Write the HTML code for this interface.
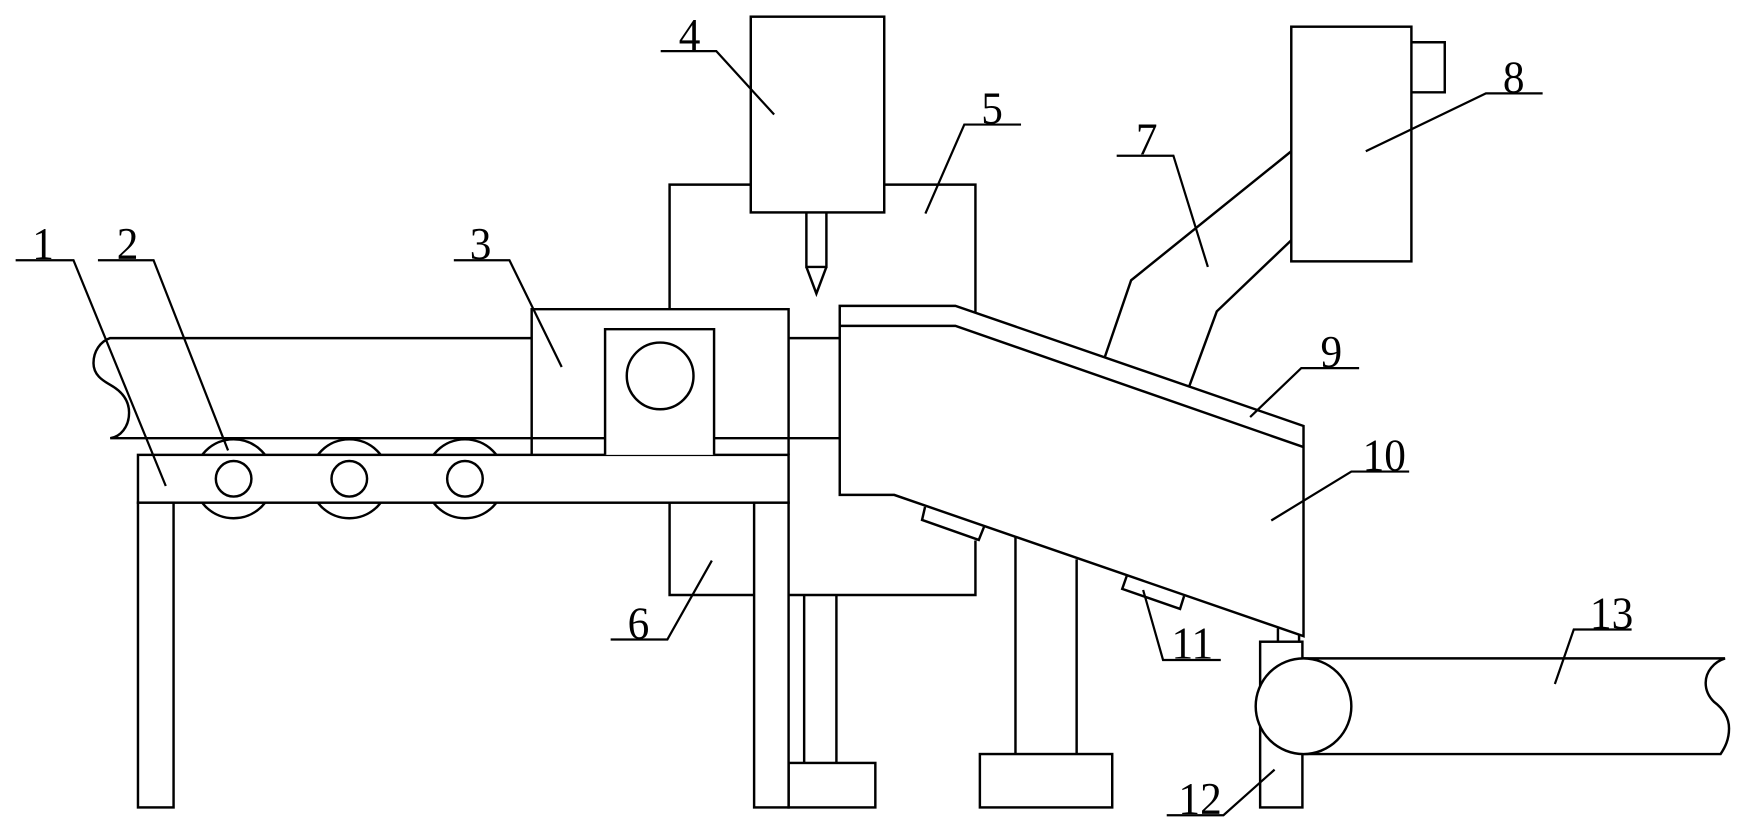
<!DOCTYPE html>
<html>
<head>
<meta charset="utf-8">
<style>
html,body{margin:0;padding:0;background:#fff;}
svg{display:block;position:absolute;left:0;top:0;}
.s{fill:none;stroke:#000;stroke-width:2.2;stroke-linejoin:miter;}
.f{fill:#fff;stroke:#000;stroke-width:2.2;}
.l{fill:none;stroke:#000;stroke-width:2;}
text{font-family:"Liberation Serif",serif;font-size:41px;fill:#000;text-anchor:middle;}
</style>
</head>
<body>
<svg width="1744" height="827" viewBox="0 0 1568 743.6" xmlns="http://www.w3.org/2000/svg">
<rect x="0" y="0" width="1568" height="744" fill="#fff"/>
<!-- frame 5/6 -->
<path class="s" d="M602 278V166H675M795 166H877V281"/>
<path class="s" d="M602 452V535H678M709 535H877V486"/>
<!-- left support -->
<path class="s" d="M723 535V686M752 535V686"/>
<rect class="f" x="709" y="686" width="78" height="40"/>
<!-- middle support -->
<path class="s" d="M913 483V678M968 503V678"/>
<rect class="f" x="881" y="678" width="119" height="48"/>
<!-- rollers -->
<circle class="s" cx="210" cy="430.5" r="35.5"/>
<circle class="s" cx="314" cy="430.5" r="35.5"/>
<circle class="s" cx="418" cy="430.5" r="35.5"/>
<!-- belt -->
<path class="s" d="M478 304H99C90 307 84 316 84 326.5C84 337 92 342 99 346C108 351 116 359 116 371C116 384 108 393 99 394H544"/>
<path class="s" d="M709 304H755M642 394H755"/>
<!-- table -->
<rect class="f" x="124" y="409" width="585" height="43"/>
<rect class="f" x="124" y="452" width="32" height="274"/>
<rect class="f" x="678" y="452" width="31" height="274"/>
<circle class="f" cx="210" cy="430.5" r="16"/>
<circle class="f" cx="314" cy="430.5" r="16"/>
<circle class="f" cx="418" cy="430.5" r="16"/>
<!-- box 3 -->
<path class="s" d="M478 409V278H709V409"/>
<path class="f" d="M544 409V296H642V409"/>
<circle class="s" cx="593.5" cy="338" r="30"/>
<!-- column 4 -->
<rect class="f" x="675" y="15" width="120" height="176"/>
<path class="s" d="M725 191V240H743V191M725 240L734 264L743 240"/>
<!-- 8 -->
<rect class="f" x="1161" y="24" width="108" height="211"/>
<path class="s" d="M1269 38H1299V83H1269"/>
<!-- duct 7 -->
<path class="s" d="M1161 136L1017 252L993 322M1161 216L1094 280L1069 348"/>
<!-- vibrators -->
<path class="f" d="M831.7 455.8L829 467.5L880 485.5L884.7 473.8"/>
<path class="f" d="M1013 518L1009 529.5L1061 547.5L1064.6 536"/>
<!-- 12 -->
<path class="s" d="M1149 577V565M1168 577V565"/>
<rect class="f" x="1133" y="577" width="38" height="149"/>
<!-- hopper -->
<path class="f" d="M755 275H859L1172 383V572L804 445H755Z"/>
<path class="s" d="M755 293H859L1172 402"/>
<!-- belt 13 -->
<path class="s" d="M1172 592H1551C1541 595 1533.6 604 1533.6 614C1533.6 622 1537 627 1541 631C1549 637 1554.6 645 1554.6 655C1554.6 665 1551 672 1547 678H1172"/>
<circle class="f" cx="1172" cy="635" r="43"/>
<!-- leaders -->
<path class="l" d="M14 234H66L149 437"/>
<path class="l" d="M88 234H138L205 405"/>
<path class="l" d="M408 234H458L505 330"/>
<path class="l" d="M594 46H644L696 103"/>
<path class="l" d="M918 112H867L832 192"/>
<path class="l" d="M549 575H600L640 504"/>
<path class="l" d="M1004 140H1055L1086 240"/>
<path class="l" d="M1387 84H1336L1228 136"/>
<path class="l" d="M1222 331H1170L1124 375"/>
<path class="l" d="M1267 424H1215L1143 468"/>
<path class="l" d="M1097.6 593.4H1045.7L1027.8 530.5"/>
<path class="l" d="M1049 733H1100L1146 692"/>
<path class="l" d="M1467 566H1415L1398 615"/>
<!-- labels -->
<text transform="translate(38.7 233) scale(0.95 1)">1</text>
<text transform="translate(114.6 233) scale(0.95 1)">2</text>
<text transform="translate(432 233) scale(0.95 1)">3</text>
<text transform="translate(620 45) scale(0.95 1)">4</text>
<text transform="translate(892 111) scale(0.95 1)">5</text>
<text transform="translate(574 574) scale(0.95 1)">6</text>
<text transform="translate(1031 139) scale(0.95 1)">7</text>
<text transform="translate(1361 83) scale(0.95 1)">8</text>
<text transform="translate(1197 330) scale(0.95 1)">9</text>
<text transform="translate(1244.6 423) scale(0.95 1)">10</text>
<text transform="translate(1072 592) scale(0.95 1)">11</text>
<text transform="translate(1079 732) scale(0.95 1)">12</text>
<text transform="translate(1449 565) scale(0.95 1)">13</text>
</svg>
</body>
</html>
